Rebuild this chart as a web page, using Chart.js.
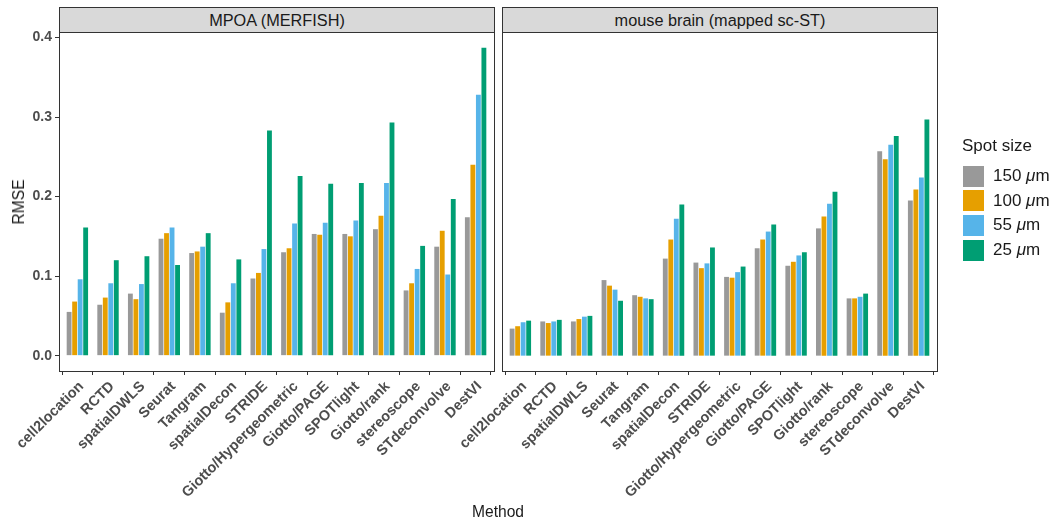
<!DOCTYPE html>
<html>
<head>
<meta charset="utf-8">
<script src="https://cdn.jsdelivr.net/npm/chart.js@4"></script>
<style>
    body { margin: 0; width: 1056px; height: 525px; background: #fff; position: relative; overflow: hidden;
           font-family: "Liberation Sans", Arial, sans-serif; color: #1a1a1a; }
    canvas { position: absolute; left: 0; top: 0; }
    .strip { position: absolute; top: 7px; height: 26px; background: #d9d9d9; border: 1px solid #333;
             box-sizing: border-box; text-align: center; font-size: 16.3px; line-height: 24px; }
    .title { position: absolute; font-size: 15.6px; white-space: nowrap; }
    .legend { position: absolute; left: 962px; top: 136px; font-size: 17px; }
    .key { display: flex; align-items: center; height: 24.6px; }
    .swatch { width: 23px; height: 23px; margin-right: 8px; box-sizing: border-box; border: 1px solid #fff; }
</style>
</head>
<body>
<canvas id="mpoaChart" width="1056" height="525"></canvas>
<canvas id="brainChart" width="1056" height="525"></canvas>

<div class="strip" style="left:59px;width:436px;">MPOA (MERFISH)</div>
<div class="strip" style="left:502px;width:436px;">mouse brain (mapped sc-ST)</div>
<div class="title" style="left:19px;top:202px;transform:translate(-50%,-50%) rotate(-90deg);">RMSE</div>
<div class="title" style="left:498px;top:503px;transform:translateX(-50%);">Method</div>
<div class="legend" id="legend"></div>

<script>
const methods = [
    "cell2location", "RCTD", "spatialDWLS", "Seurat", "Tangram", "spatialDecon", "STRIDE",
    "Giotto/Hypergeometric", "Giotto/PAGE", "SPOTlight", "Giotto/rank", "stereoscope", "STdeconvolve", "DestVI"
];
const spotSizes = ["150", "100", "55", "25"];
const yTicks = [0, 0.1, 0.2, 0.3, 0.4];

// MPOA (MERFISH)
const mpoa150 = [0.055, 0.064, 0.078, 0.147, 0.129, 0.054, 0.097, 0.130, 0.153, 0.153, 0.159, 0.082, 0.137, 0.174];
const mpoa100 = [0.068, 0.073, 0.071, 0.154, 0.131, 0.067, 0.104, 0.135, 0.152, 0.150, 0.176, 0.091, 0.157, 0.240];
const mpoa55  = [0.096, 0.091, 0.090, 0.161, 0.137, 0.091, 0.134, 0.166, 0.167, 0.170, 0.217, 0.109, 0.102, 0.328];
const mpoa25  = [0.161, 0.120, 0.125, 0.114, 0.154, 0.121, 0.283, 0.226, 0.216, 0.217, 0.293, 0.138, 0.197, 0.387];

// mouse brain (mapped sc-ST)
const brain150 = [0.034, 0.043, 0.043, 0.095, 0.076, 0.122, 0.117, 0.099, 0.135, 0.113, 0.160, 0.072, 0.257, 0.195];
const brain100 = [0.037, 0.041, 0.046, 0.088, 0.074, 0.146, 0.110, 0.098, 0.146, 0.118, 0.175, 0.072, 0.247, 0.209];
const brain55  = [0.042, 0.043, 0.049, 0.083, 0.072, 0.172, 0.116, 0.105, 0.156, 0.126, 0.191, 0.074, 0.265, 0.224];
const brain25  = [0.044, 0.045, 0.050, 0.069, 0.071, 0.190, 0.136, 0.112, 0.165, 0.130, 0.206, 0.078, 0.276, 0.297];

const colors = ["#999999", "#E69F00", "#56B4E9", "#009E73"];

const tickFont = { family: "'Liberation Sans', Arial, sans-serif", size: 14, weight: "bold" };
const xTickFont = { family: "'Liberation Sans', Arial, sans-serif", size: 14.5, weight: "bold" };

const panelBorder = {
    id: "panelBorder",
    afterDraw(chart) {
        const a = chart.chartArea;
        const ctx = chart.ctx;
        ctx.save();
        ctx.strokeStyle = "#333333";
        ctx.lineWidth = 1;
        ctx.strokeRect(a.left + 0.5, a.top + 0.5, a.right - a.left, a.bottom - a.top);
        ctx.restore();
    }
};

function makePanel(id, series, showY, padLeft, padRight) {
    const datasets = series.map((vals, k) => ({
        label: spotSizes[k] + " μm",
        data: vals.map((v, i) => ({ x: i + 1, y: v })),
        backgroundColor: colors[k],
        borderWidth: 0,
        categoryPercentage: 0.72,
        barPercentage: 0.88
    }));

    return new Chart(document.getElementById(id), {
        type: "bar",
        data: { datasets },
        plugins: [panelBorder],
        options: {
            responsive: false,
            animation: false,
            layout: { padding: { left: padLeft, right: padRight, top: 32, bottom: 4 } },
            plugins: { legend: { display: false }, tooltip: { enabled: false } },
            scales: {
                x: {
                    type: "linear",
                    min: 0.4,
                    max: 14.6,
                    offset: false,
                    afterBuildTicks: (s) => { s.ticks = methods.map((m, i) => ({ value: i + 1 })); },
                    afterFit: (s) => { s.height = 150; s.paddingLeft = 0; s.paddingRight = 0; },
                    ticks: {
                        autoSkip: false,
                        minRotation: 45,
                        maxRotation: 45,
                        padding: 3,
                        labelOffset: 4,
                        color: "#4d4d4d",
                        font: xTickFont,
                        callback: (v) => methods[Math.round(v) - 1] || ""
                    },
                    grid: { drawOnChartArea: false, drawTicks: true, tickLength: 4, color: "#333333", lineWidth: 1 },
                    border: { display: false }
                },
                y: {
                    display: showY,
                    min: -0.0193,
                    max: 0.4069,
                    afterBuildTicks: (s) => { s.ticks = yTicks.map((v) => ({ value: v })); },
                    afterFit: (s) => { s.width = showY ? 59 : 0; s.paddingTop = 0; s.paddingBottom = 0; },
                    ticks: {
                        padding: 3,
                        color: "#4d4d4d",
                        font: tickFont,
                        callback: (v) => v.toFixed(1)
                    },
                    grid: { drawOnChartArea: false, drawTicks: true, tickLength: 4, color: "#333333", lineWidth: 1 },
                    border: { display: false }
                }
            }
        }
    });
}

function buildLegend() {
    const el = document.getElementById("legend");
    let html = `<div style="margin-bottom:8px;">Spot size</div>`;
    spotSizes.forEach((s, k) => {
        html += `<div class="key"><span class="swatch" style="background:${colors[k]}"></span>${s}&nbsp;<i>μ</i>m</div>`;
    });
    el.innerHTML = html;
}

window.addEventListener("DOMContentLoaded", () => {
    makePanel("mpoaChart", [mpoa150, mpoa100, mpoa55, mpoa25], true, 0, 562);
    makePanel("brainChart", [brain150, brain100, brain55, brain25], false, 502, 119);
    buildLegend();
});
</script>
</body>
</html>
